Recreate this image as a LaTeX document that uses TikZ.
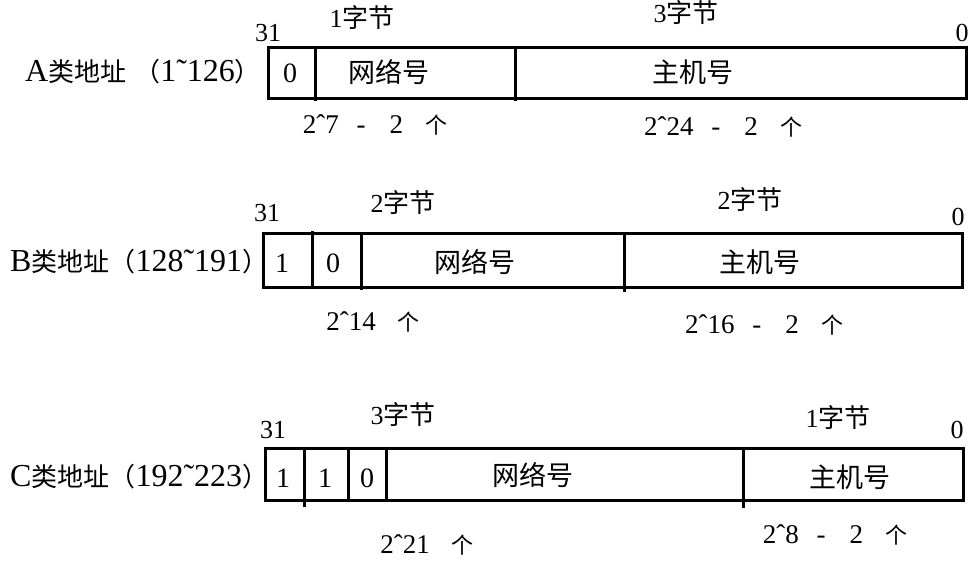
\documentclass[tikz,border=0pt]{standalone}
\usepackage{fontspec}
\setmainfont{Liberation Serif}
\newfontfamily\cjk{Noto Sans CJK SC}
\def\zhsize{26}
\newcommand\zh[1]{{\fontsize{\zhsize}{\zhsize}\selectfont\cjk #1}}
\tikzset{
  frame/.style={line width=3pt},
  cell/.style={font=\fontsize{28}{32}\selectfont, inner sep=0pt},
  field/.style={font=\fontsize{27}{32}\selectfont\cjk, inner sep=0pt},
  bitno/.style={font=\fontsize{26}{30}\selectfont, inner sep=0pt},
  bytes/.style={font=\fontsize{26}{30}\selectfont\def\zhsize{26}, inner sep=0pt},
  count/.style={font=\fontsize{27}{31}\selectfont\def\zhsize{22}, inner sep=0pt},
  classname/.style={font=\fontsize{32}{36}\selectfont\def\zhsize{26}, inner sep=0pt, anchor=west}
}
\begin{document}
\begin{tikzpicture}[x=1pt,y=-1pt]
\useasboundingbox (0,0) rectangle (979,563);
%A class
\draw [frame] (268,47) rectangle (966,98);
\draw [frame] (315,47) -- (315,101);
\draw [frame] (515,47) -- (515,101);
\node[classname] (lA) at (25,72) {A\zh{类地址\hspace{8pt}（}1˜126\zh{）}};
\node[cell] (a1) at (290,73) {0};
\node[field] (aNet) at (389,72) {网络号};
\node[field] (aHost) at (693,72) {主机号};
\node[bitno] (aHi) at (268,33) {31};
\node[bitno] (aLo) at (962,33) {0};
\node[bytes] (aNetB) at (362,18) {1\zh{字节}};
\node[bytes] (aHostB) at (686,13) {3\zh{字节}};
\node[count] (aNetN) at (375,125) {2ˆ7\hspace{18pt}-\hspace{24pt}2\hspace{22pt}\zh{个}};
\node[count] (aHostN) at (723,127) {2ˆ24\hspace{18pt}-\hspace{24pt}2\hspace{22pt}\zh{个}};
%B class
\draw [frame] (263,233) rectangle (962,287);
\draw [frame] (312,231) -- (312,287);
\draw [frame] (361,233) -- (361,290);
\draw [frame] (624,233) -- (624,292);
\node[classname] (lB) at (10,262) {B\zh{类地址（}128˜191\zh{）}};
\node[cell] (b1) at (282,263) {1};
\node[cell] (b2) at (333,263) {0};
\node[field] (bNet) at (475,262) {网络号};
\node[field] (bHost) at (760,262) {主机号};
\node[bitno] (bHi) at (267,213) {31};
\node[bitno] (bLo) at (958,217) {0};
\node[bytes] (bNetB) at (403,203) {2\zh{字节}};
\node[bytes] (bHostB) at (750,200) {2\zh{字节}};
\node[count] (bNetN) at (373,322) {2ˆ14\hspace{22pt}\zh{个}};
\node[count] (bHostN) at (764,325) {2ˆ16\hspace{18pt}-\hspace{24pt}2\hspace{22pt}\zh{个}};
%C class
\draw [frame] (265,448) rectangle (963,500);
\draw [frame] (304,448) -- (304,507);
\draw [frame] (348,448) -- (348,502);
\draw [frame] (386,448) -- (386,500);
\draw [frame] (743,448) -- (743,508);
\node[classname] (lC) at (10,477) {C\zh{类地址（}192˜223\zh{）}};
\node[cell] (c1) at (283,478) {1};
\node[cell] (c2) at (325,478) {1};
\node[cell] (c3) at (367,478) {0};
\node[field] (cNet) at (533,475) {网络号};
\node[field] (cHost) at (850,477) {主机号};
\node[bitno] (cHi) at (273,430) {31};
\node[bitno] (cLo) at (957,430) {0};
\node[bytes] (cNetB) at (403,415) {3\zh{字节}};
\node[bytes] (cHostB) at (838,418) {1\zh{字节}};
\node[count] (cNetN) at (427,545) {2ˆ21\hspace{22pt}\zh{个}};
\node[count] (cHostN) at (835,535) {2ˆ8\hspace{18pt}-\hspace{24pt}2\hspace{22pt}\zh{个}};
\end{tikzpicture}
\end{document}
